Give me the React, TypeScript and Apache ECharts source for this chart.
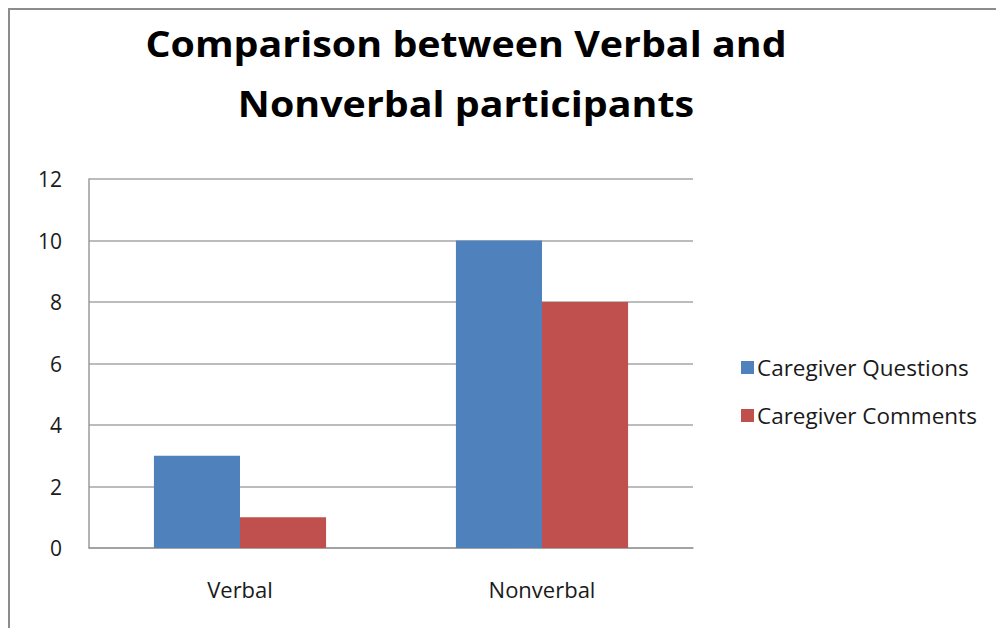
import React, { useEffect, useRef } from "react";
import * as echarts from "echarts";

const categories = ["Verbal", "Nonverbal"];
const questions = [3, 10];
const comments = [1, 8];
const seriesNames = ["Caregiver Questions", "Caregiver Comments"];
const titleLines = ["Comparison between Verbal and", "Nonverbal participants"];

const FONT = "'Open Sans', 'Noto Sans', sans-serif";

export default function App() {
  const ref = useRef<HTMLDivElement>(null);
  useEffect(() => {
    if (!ref.current) return;
    const chart = echarts.init(ref.current, null, { renderer: "svg" });
    chart.setOption({
      animation: false,
      backgroundColor: "#ffffff",
      graphic: [
        {
          type: "rect",
          shape: { x: 9, y: 9, width: 1200, height: 1200 },
          style: { fill: "none", stroke: "#8c8c8c", lineWidth: 2 },
          silent: true,
        },
        {
          type: "text",
          x: 466,
          y: 43,
          scaleX: 1.095,
          style: {
            text: titleLines[0],
            font: `bold 36px ${FONT}`,
            fill: "#000000",
            textAlign: "center",
            textVerticalAlign: "middle",
          },
        },
        {
          type: "text",
          x: 466,
          y: 103,
          scaleX: 1.095,
          style: {
            text: titleLines[1],
            font: `bold 36px ${FONT}`,
            fill: "#000000",
            textAlign: "center",
            textVerticalAlign: "middle",
          },
        },
      ],
      legend: {
        orient: "vertical",
        left: 736,
        top: 351,
        itemWidth: 13,
        itemHeight: 13,
        itemGap: 25,
        icon: "rect",
        textStyle: { fontFamily: FONT, fontSize: 22.5, color: "#1a1a1a", padding: [0, 0, 0, -2] },
        data: seriesNames,
      },
      grid: { left: 89, top: 179, right: 303, bottom: 80, containLabel: false },
      xAxis: {
        type: "category",
        data: categories,
        axisLine: { show: true, lineStyle: { color: "#9a9a9a", width: 1.5 } },
        axisTick: { show: false },
        axisLabel: { fontFamily: FONT, fontSize: 22, color: "#1a1a1a", margin: 30 },
      },
      yAxis: {
        type: "value",
        min: 0,
        max: 12,
        interval: 2,
        axisLine: { show: true, lineStyle: { color: "#9a9a9a", width: 1.5 } },
        axisTick: { show: false },
        splitLine: { show: true, lineStyle: { color: "#a6a6a6", width: 1.5 } },
        axisLabel: { fontFamily: FONT, fontSize: 21, color: "#1a1a1a", margin: 27 },
      },
      series: [
        {
          name: seriesNames[0],
          type: "bar",
          data: questions,
          itemStyle: { color: "#4F81BD" },
          barGap: "0%",
          barCategoryGap: "43%",
        },
        {
          name: seriesNames[1],
          type: "bar",
          data: comments,
          itemStyle: { color: "#C0504D" },
          barGap: "0%",
          barCategoryGap: "43%",
        },
      ],
    });
    return () => chart.dispose();
  }, []);
  return (
    <div
      ref={ref}
      style={{ position: "absolute", left: 0, top: 0, width: 996, height: 628 }}
    />
  );
}
